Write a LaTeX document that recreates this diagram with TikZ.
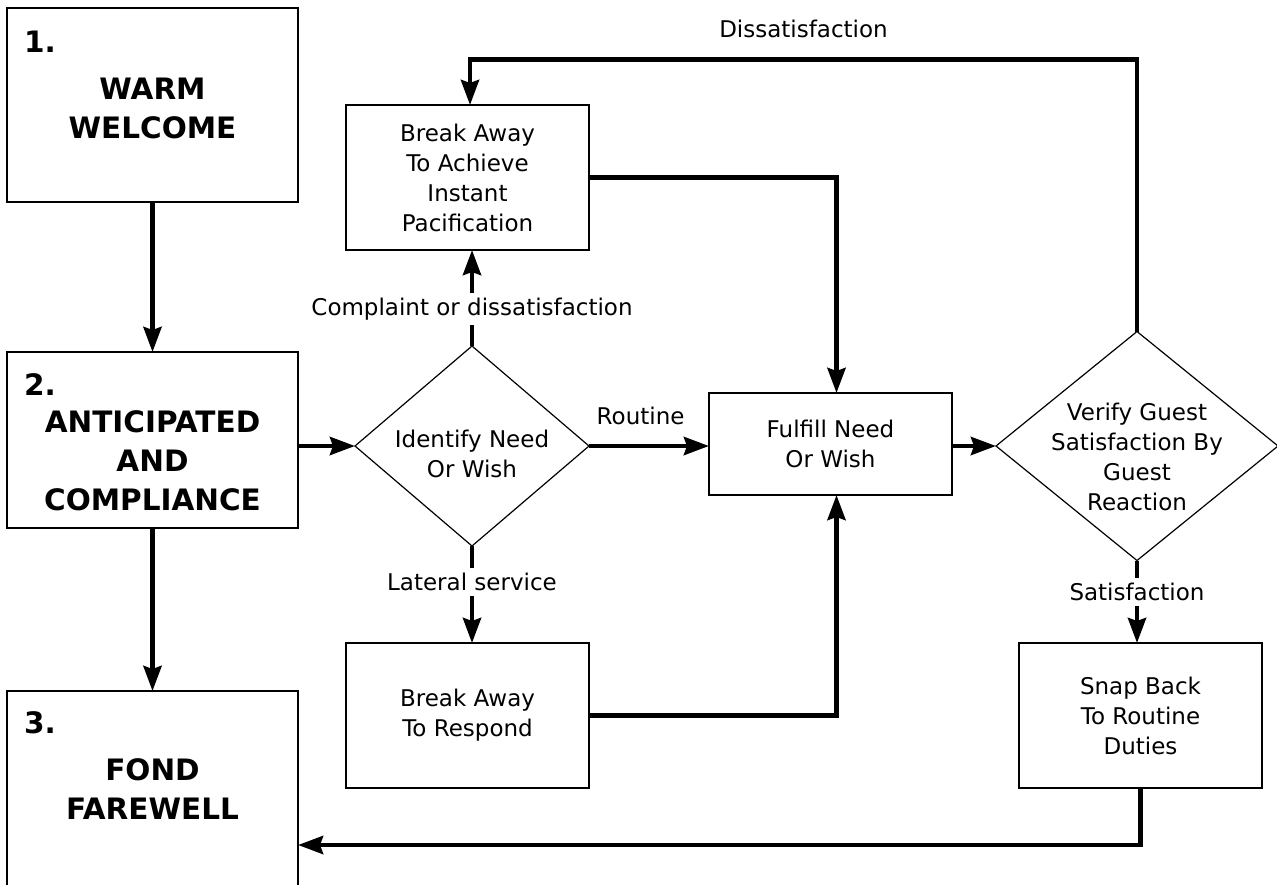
\documentclass[tikz,border=0pt]{standalone}
\usepackage{fontspec}
\setmainfont{DejaVu Sans}
\usetikzlibrary{arrows.meta,shapes.geometric}
\tikzset{
  stepbox/.style={draw, line width=1.4pt, inner sep=0pt, outer sep=0pt, minimum width=291pt},
  taskbox/.style={draw, line width=1.4pt, inner sep=0pt, outer sep=0pt, minimum width=243pt,
    align=center, font=\fontsize{23}{30}\selectfont},
  decision/.style={draw, diamond, line width=1.2pt, inner sep=0pt, outer sep=0pt},
  boxtxt/.style={inner sep=0pt, align=center, font=\fontsize{23}{30}\selectfont},
  titletxt/.style={inner sep=0pt, align=center, font=\fontsize{29.5}{39}\selectfont\bfseries},
  numtxt/.style={inner sep=0pt, anchor=base west, font=\fontsize{29.5}{39}\selectfont\bfseries},
  linetxt/.style={fill=white, inner sep=5pt, font=\fontsize{23}{30}\selectfont},
  flow/.style={line width=4.6pt, -{Stealth[length=25pt,width=18pt,inset=3pt]}},
}
\begin{document}
\begin{tikzpicture}[x=1pt, y=-1pt]
    \path[use as bounding box, fill=white] (0,0) rectangle (1277,884);

    % the three steps
    \node[stepbox, minimum height=194pt] (warm) at (152.5,105) {};
    \node[stepbox, minimum height=176pt] (antic) at (152.5,440) {};
    \node[stepbox, minimum height=209pt] (fond) at (152.5,795.5) {};
    \node[numtxt] (warmnum) at (24,52) {1.};
    \node[numtxt] (anticnum) at (24,395) {2.};
    \node[numtxt] (fondnum) at (24,733) {3.};
    \node[titletxt] (warmtitle) at (152.5,108) {WARM\\WELCOME};
    \node[titletxt] (antictitle) at (152.5,460.5) {ANTICIPATED\\AND\\COMPLIANCE};
    \node[titletxt] (fondtitle) at (152.5,789) {FOND\\FAREWELL};

    % service loop
    \node[taskbox, minimum height=145pt] (pacify) at (467.5,177.5) {Break Away\\To Achieve\\Instant\\Pacification};
    \node[taskbox, minimum height=145pt] (respond) at (467.5,715.5) {Break Away\\To Respond};
    \node[taskbox, minimum height=102pt] (fulfill) at (830.5,444) {Fulfill Need\\Or Wish};
    \node[taskbox, minimum height=145pt] (snap) at (1140.5,715.5) {Snap Back\\To Routine\\Duties};

    \node[decision, minimum width=234pt, minimum height=200pt] (identify) at (472,446) {};
    \node[boxtxt] (identifytxt) at ([yshift=-8pt]identify.center) {Identify Need\\Or Wish};
    \node[decision, minimum width=282pt, minimum height=229pt] (verify) at (1137,446) {};
    \node[boxtxt] (verifytxt) at ([yshift=-11pt]verify.center) {Verify Guest\\Satisfaction By\\Guest\\Reaction};

    \draw[flow] (warm) -- (antic);
    \draw[flow] (antic) -- (fond);
    \draw[flow] (antic.east |- identify.west) -- (identify.west);
    \draw[flow] (identify.east) -- node[linetxt, fill=none, above=14pt, pos=.43] {Routine} (fulfill.west |- identify.east);
    \draw[flow] (identify.north) -- node[linetxt, pos=.385] {Complaint or dissatisfaction} (identify.north |- pacify.south);
    \draw[flow] (identify.south) -- node[linetxt, pos=.37] {Lateral service} (identify.south |- respond.north);
    \draw[flow] (pacify.east) -| ([xshift=6pt]fulfill.north);
    \draw[flow] (respond.east) -| ([xshift=6pt]fulfill.south);
    \draw[flow] (fulfill.east |- verify.west) -- (verify.west);
    \draw[flow] (verify.south) -- node[linetxt, pos=.38] {Satisfaction} (verify.south |- snap.north);
    \draw[flow] (verify.north) -- ++(0,-272) -| node[linetxt, fill=none, above=14pt, pos=.25] {Dissatisfaction} ([xshift=2.5pt]pacify.north);
    \draw[flow] (snap.south) |- ([yshift=-49.5pt]fond.east);
\end{tikzpicture}
\end{document}
